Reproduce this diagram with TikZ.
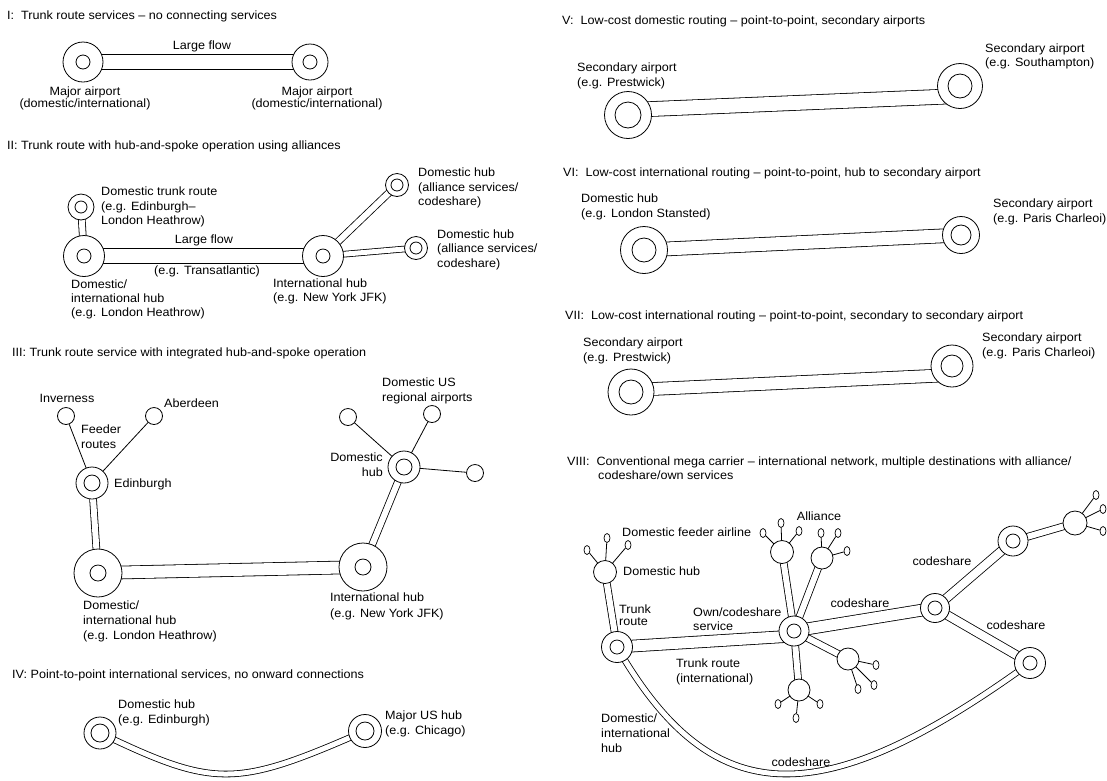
\documentclass[tikz,border=0pt]{standalone}
\usepackage{fontspec}
\setmainfont{Liberation Sans}[FakeStretch=1.05]
\usetikzlibrary{shapes.geometric,calc}
\pgfdeclarelayer{bg}
\pgfsetlayers{bg,main}
\tikzset{
  hub/.style 2 args={circle,draw,fill=white,line width=0.8pt,inner sep=0pt,minimum size=#1,
    path picture={\draw[line width=0.8pt] (path picture bounding box.center) circle[radius=#2];}},
  apt/.style={circle,draw,fill=white,line width=0.8pt,inner sep=0pt,minimum size=#1},
  ov/.style={ellipse,draw,fill=white,line width=0.7pt,inner sep=0pt,minimum width=6pt,minimum height=9pt},
  lab/.style={inner sep=0pt,anchor=west,text height=8.6pt,text depth=0pt},
  labc/.style={lab,anchor=center},
  labe/.style={lab,anchor=east},
  route/.style={draw,line width=0.8pt,double,double distance=#1},
  spoke/.style={draw,line width=0.8pt},
}
\begin{document}
\begin{tikzpicture}[x=1pt,y=-1pt,font=\fontsize{12}{14}\selectfont]
\useasboundingbox (0,0) rectangle (1107,780);

% ---------------- I
\node[lab] (t1) at (7,15) {I:\ \ Trunk route services – no connecting services};
\node[hub={40pt}{7pt}] (i1) at (83,62) {};
\node[hub={36pt}{7pt}] (i2) at (310,62) {};
\node[labc] (i3) at (202,45) {Large flow};
\node[labc] (i4) at (85,91) {Major airport};
\node[labc] (i5) at (85,103) {(domestic/international)};
\node[labc] (i6) at (317,91) {Major airport};
\node[labc] (i7) at (317,103) {(domestic/international)};

% ---------------- II
\node[lab] (t2) at (7,145) {II: Trunk route with hub-and-spoke operation using alliances};
\node[hub={26pt}{6pt}] (dtr) at (81,207) {};
\node[hub={41pt}{7pt}] (lhr2) at (84,256) {};
\node[hub={41pt}{7pt}] (jfk2) at (323,256) {};
\node[hub={23pt}{6pt}] (dh2a) at (397,185) {};
\node[hub={23pt}{6pt}] (dh2b) at (416,248) {};
\node[labc] (l2a) at (204,239) {Large flow};
\node[labc] (l2b) at (207,270) {(e.g. Transatlantic)};
\node[lab] (l2c) at (71,284) {Domestic/};
\node[lab] (l2d) at (71,298) {international hub};
\node[lab] (l2e) at (71,312) {(e.g. London Heathrow)};
\node[lab] (l2f) at (273,283) {International hub};
\node[lab] (l2g) at (273,297) {(e.g. New York JFK)};
\node[lab] (l2h) at (418,172) {Domestic hub};
\node[lab] (l2i) at (418,187) {(alliance services/};
\node[lab] (l2j) at (418,201) {codeshare)};
\node[lab] (l2k) at (437,234) {Domestic hub};
\node[lab] (l2l) at (437,248) {(alliance services/};
\node[lab] (l2m) at (437,263) {codeshare)};
\node[lab] (l2n) at (101,191) {Domestic trunk route};
\node[lab] (l2o) at (101,206) {(e.g. Edinburgh–};
\node[lab] (l2p) at (101,220) {London Heathrow)};

% ---------------- III
\node[lab] (t3) at (12,352) {III: Trunk route service with integrated hub-and-spoke operation};
\node[apt=17pt] (inv) at (66,416) {};
\node[apt=17pt] (abd) at (154,416) {};
\node[hub={32pt}{8pt}] (edi) at (92,483) {};
\node[hub={48pt}{8pt}] (lhr3) at (98,573) {};
\node[hub={48pt}{8pt}] (jfk3) at (363,567) {};
\node[hub={32pt}{8pt}] (dh3) at (404,467) {};
\node[apt=17pt] (s1) at (348,417) {};
\node[apt=17pt] (s2) at (432,414) {};
\node[apt=17pt] (s3) at (475,473) {};
\node[labc] (l3a) at (67,398) {Inverness};
\node[lab] (l3b) at (164,403) {Aberdeen};
\node[lab] (l3c) at (81,429) {Feeder};
\node[lab] (l3d) at (81,444) {routes};
\node[lab] (l3e) at (114,483) {Edinburgh};
\node[lab] (l3f) at (382,382) {Domestic US};
\node[lab] (l3g) at (382,397) {regional airports};
\node[labe] (l3h) at (383,457) {Domestic};
\node[labe] (l3i) at (383,472) {hub};
\node[lab] (l3j) at (83,605) {Domestic/};
\node[lab] (l3k) at (83,620) {international hub};
\node[lab] (l3l) at (83,635) {(e.g. London Heathrow)};
\node[lab] (l3m) at (330,597) {International hub};
\node[lab] (l3n) at (330,613) {(e.g. New York JFK)};

% ---------------- IV
\node[lab] (t4) at (12,674) {IV: Point-to-point international services, no onward connections};
\node[hub={32pt}{9pt}] (h4a) at (100,733) {};
\node[hub={33pt}{9pt}] (h4b) at (365,731) {};
\node[lab] (l4a) at (118,704) {Domestic hub};
\node[lab] (l4b) at (118,719) {(e.g. Edinburgh)};
\node[lab] (l4c) at (385,715) {Major US hub};
\node[lab] (l4d) at (385,730) {(e.g. Chicago)};

% ---------------- V
\node[lab] (t5) at (562,20) {V:\ \ Low-cost domestic routing – point-to-point, secondary airports};
\node[hub={47pt}{13pt}] (v1) at (628,115) {};
\node[hub={45pt}{12pt}] (v2) at (960,86) {};
\node[lab] (l5a) at (577,67) {Secondary airport};
\node[lab] (l5b) at (577,82) {(e.g. Prestwick)};
\node[lab] (l5c) at (985,48) {Secondary airport};
\node[lab] (l5d) at (985,62) {(e.g. Southampton)};

% ---------------- VI
\node[lab] (t6) at (563,172) {VI:\ \ Low-cost international routing – point-to-point, hub to secondary airport};
\node[hub={47pt}{12pt}] (w1) at (644,250) {};
\node[hub={37pt}{10pt}] (w2) at (961,235) {};
\node[lab] (l6a) at (581,198) {Domestic hub};
\node[lab] (l6b) at (581,213) {(e.g. London Stansted)};
\node[lab] (l6c) at (993,203) {Secondary airport};
\node[lab] (l6d) at (993,218) {(e.g. Paris Charleoi)};

% ---------------- VII
\node[lab] (t7) at (565,315) {VII:\ \ Low-cost international routing – point-to-point, secondary to secondary airport};
\node[hub={46pt}{12pt}] (x1) at (631,392) {};
\node[hub={42pt}{11pt}] (x2) at (952,366) {};
\node[lab] (l7a) at (583,342) {Secondary airport};
\node[lab] (l7b) at (583,357) {(e.g. Prestwick)};
\node[lab] (l7c) at (982,337) {Secondary airport};
\node[lab] (l7d) at (982,352) {(e.g. Paris Charleoi)};

% ---------------- VIII
\node[lab] (t8a) at (567,461) {VIII:\ \ Conventional mega carrier – international network, multiple destinations with alliance/};
\node[lab] (t8b) at (598,475) {codeshare/own services};
\node[hub={31pt}{7pt}] (A) at (617,647) {};
\node[apt=23pt] (D) at (605,572) {};
\node[ov] (d1) at (587,550) {};
\node[ov] (d2) at (607,538) {};
\node[ov] (d3) at (628,545) {};
\node[hub={30pt}{7pt}] (C) at (794,631) {};
\node[apt=23pt] (E1) at (782,552) {};
\node[ov] (e11) at (763,533) {};
\node[ov] (e12) at (781,523) {};
\node[ov] (e13) at (799,531) {};
\node[apt=22pt] (E2) at (822,558) {};
\node[ov] (e21) at (821,533) {};
\node[ov] (e22) at (838,533) {};
\node[ov] (e23) at (847,551) {};
\node[apt=22pt] (F1) at (848,659) {};
\node[ov] (f11) at (876,665) {};
\node[ov] (f12) at (874,685) {};
\node[ov] (f13) at (858,689) {};
\node[apt=22pt] (F2) at (799,690) {};
\node[ov] (f21) at (778,704) {};
\node[ov] (f22) at (820,704) {};
\node[ov] (f23) at (796,718) {};
\node[hub={29pt}{7pt}] (G) at (935,608) {};
\node[hub={30pt}{7pt}] (H) at (1013,541) {};
\node[apt=24pt] (I) at (1075,523) {};
\node[ov] (i21) at (1096,495) {};
\node[ov] (i22) at (1103,509) {};
\node[ov] (i23) at (1103,531) {};
\node[hub={31pt}{7pt}] (J) at (1030,663) {};
\node[lab] (l8a) at (622,532) {Domestic feeder airline};
\node[lab] (l8b) at (623,571) {Domestic hub};
\node[labc] (l8c) at (819,516) {Alliance};
\node[lab] (l8d) at (619,609) {Trunk};
\node[lab] (l8e) at (619,621) {route};
\node[lab] (l8f) at (693,612) {Own/codeshare};
\node[lab] (l8g) at (693,626) {service};
\node[labc] (l8h) at (860,603) {codeshare};
\node[labc] (l8i) at (942,561) {codeshare};
\node[labc] (l8j) at (1016,625) {codeshare};
\node[lab] (l8k) at (676,663) {Trunk route};
\node[lab] (l8l) at (676,678) {(international)};
\node[lab] (l8m) at (601,718) {Domestic/};
\node[lab] (l8n) at (601,733) {international};
\node[lab] (l8o) at (601,748) {hub};
\node[labc] (l8p) at (801,762) {codeshare};

% ---------------- connectors (behind nodes)
\begin{pgfonlayer}{bg}
\fill[white] (0,0) rectangle (1107,780);
\draw[route=14pt] (i1.center) -- (i2.center);
\draw[route=6pt] (dtr.center) -- (lhr2.center);
\draw[route=14pt] (lhr2.center) -- (jfk2.center);
\draw[route=6pt] (jfk2.center) -- (dh2a.center);
\draw[route=5pt] (jfk2.center) -- (dh2b.center);
\draw[spoke] (edi.center) -- (inv);
\draw[spoke] (edi.center) -- (abd);
\draw[route=6pt] (edi.center) -- (lhr3.center);
\draw[route=12pt] (lhr3.center) -- (jfk3.center);
\draw[route=6pt] (jfk3.center) -- (dh3.center);
\draw[spoke] (dh3.center) -- (s1);
\draw[spoke] (dh3.center) -- (s2);
\draw[spoke] (dh3.center) -- (s3);
\draw[route=5pt] (h4a.center) .. controls (215,788) and (235,788) .. (h4b.center);
\draw[route=14pt] ($(v1.center)+(0,-5)$) -- ($(v2.center)+(0,10)$);
\draw[route=13pt] (w1.center) -- (w2.center);
\draw[route=12pt] ($(x1.center)+(0,-2)$) -- ($(x2.center)+(0,9)$);
\draw[route=6pt] (A.center) -- (D.center);
\foreach \o in {d1,d2,d3} \draw[spoke] (D.center) -- (\o);
\draw[route=11pt] (A.center) -- ($(C.center)+(0,5)$);
\draw[route=6pt] (C.center) -- (E1.center);
\draw[route=6pt] (C.center) -- (E2.center);
\draw[route=6pt] (C.center) -- (F1.center);
\draw[route=6pt] (C.center) -- (F2.center);
\foreach \o in {e11,e12,e13} \draw[spoke] (E1.center) -- (\o);
\foreach \o in {e21,e22,e23} \draw[spoke] (E2.center) -- (\o);
\foreach \o in {f11,f12,f13} \draw[spoke] (F1.center) -- (\o);
\foreach \o in {f21,f22,f23} \draw[spoke] (F2.center) -- (\o);
\draw[route=11pt] (C.center) -- (G.center);
\draw[route=8pt] (G.center) -- (H.center);
\draw[route=6pt] (H.center) -- (I.center);
\foreach \o in {i21,i22,i23} \draw[spoke] (I.center) -- (\o);
\draw[route=8pt] (G.center) -- (J.center);
\draw[route=5pt] (A.center) .. controls (712,812) and (820,815) .. (J.center);
\end{pgfonlayer}
\end{tikzpicture}
\end{document}
